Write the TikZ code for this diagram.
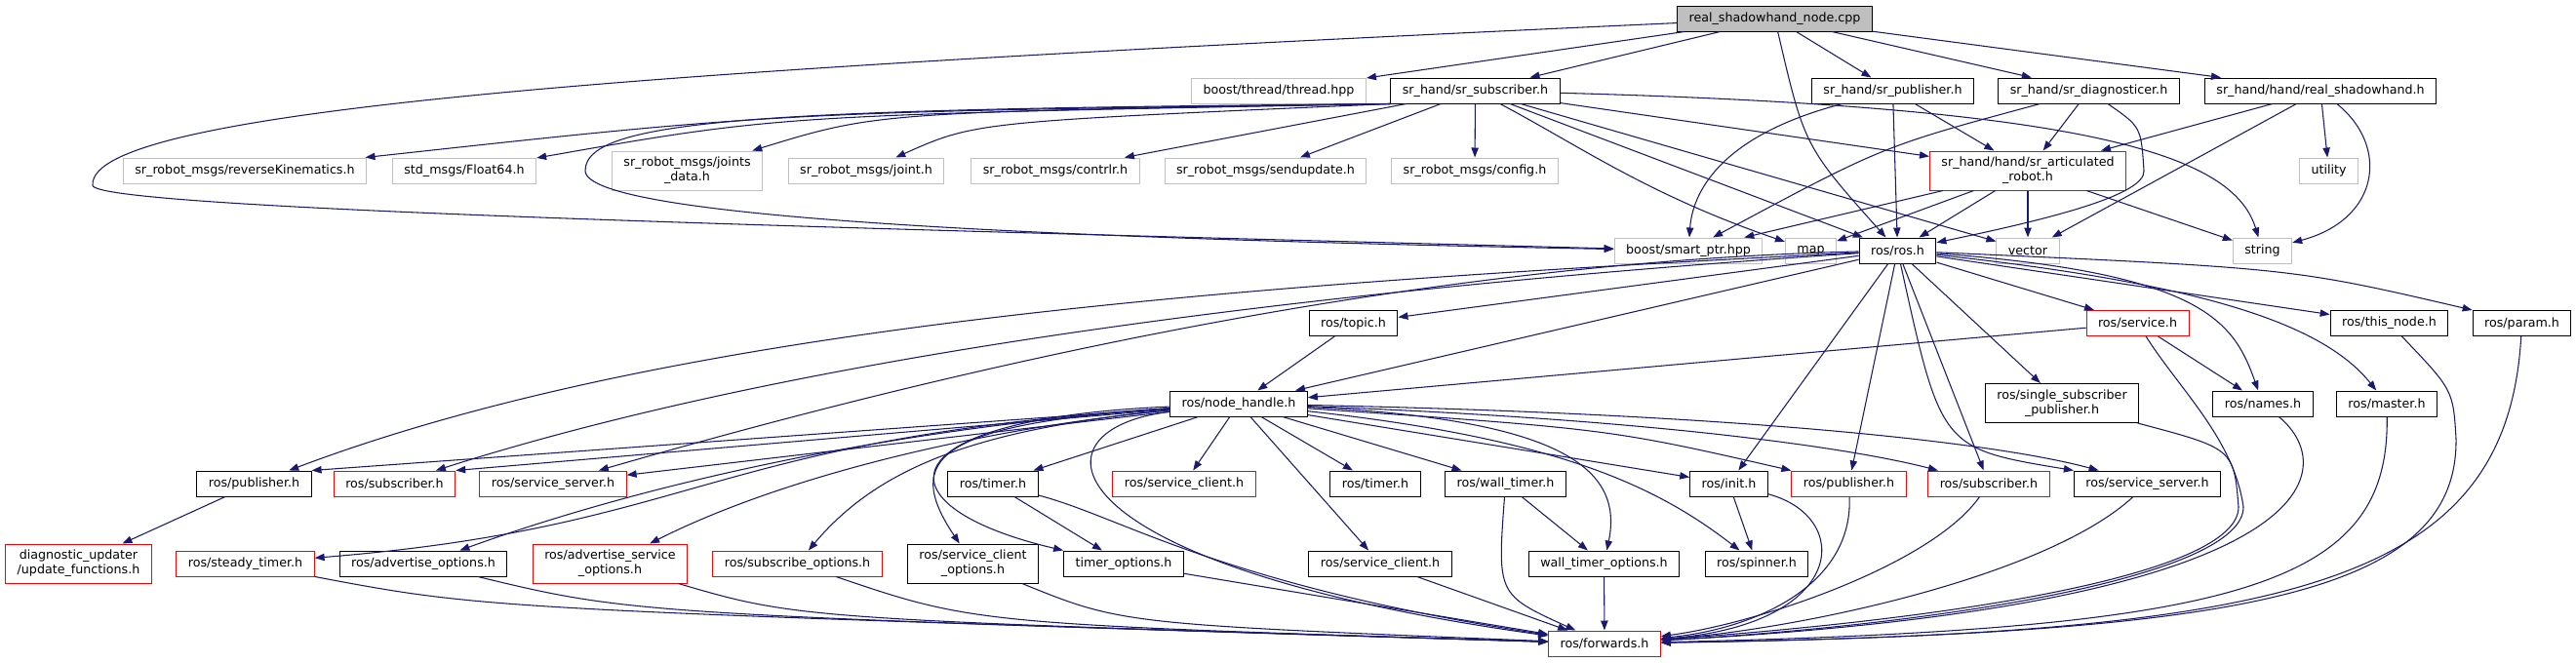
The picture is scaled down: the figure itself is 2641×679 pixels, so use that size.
\documentclass[tikz,border=0pt]{standalone}
\usepackage{fontspec}
\setmainfont{DejaVu Sans}
\usetikzlibrary{arrows.meta}
\definecolor{incblue}{HTML}{191970}
\definecolor{extgray}{HTML}{BFBFBF}
\definecolor{mainfill}{HTML}{BFBFBF}
\tikzset{
  file/.style={draw=black, fill=white, line width=0.75pt, inner xsep=9pt, inner ysep=2pt,
    minimum height=19.5pt, align=center, font=\fontsize{9.5}{11.25}\selectfont},
  extfile/.style={file, draw=extgray},
  redfile/.style={file, draw=red},
  mainfile/.style={file, fill=mainfill},
  twoline/.style={minimum height=30pt},
  inc/.style={draw=incblue, line width=0.8pt, -{Triangle[length=7.5pt,width=5.5pt]}},
}
\begin{document}
\begin{tikzpicture}[x=0.75pt,y=-0.75pt]
\useasboundingbox (0,0) rectangle (2641,679);
\node[mainfile] (main) at (1819.5,19) {real\_shadowhand\_node.cpp};
\node[extfile] (thread) at (1311,93) {boost/thread/thread.hpp};
\node[file] (srsub) at (1512.5,93) {sr\_hand/sr\_subscriber.h};
\node[file] (srpub) at (1940.5,93) {sr\_hand/sr\_publisher.h};
\node[file] (srdiag) at (2141.5,93) {sr\_hand/sr\_diagnosticer.h};
\node[file] (realsh) at (2379,93) {sr\_hand/hand/real\_shadowhand.h};
\node[extfile] (revkin) at (251,175) {sr\_robot\_msgs/reverseKinematics.h};
\node[extfile] (float) at (476,175) {std\_msgs/Float64.h};
\node[extfile,twoline] (jdata) at (704.5,175) {sr\_robot\_msgs/joints\\\_data.h};
\node[extfile] (joint) at (888,175) {sr\_robot\_msgs/joint.h};
\node[extfile] (contrlr) at (1082,175) {sr\_robot\_msgs/contrlr.h};
\node[extfile] (sendupd) at (1297.5,175) {sr\_robot\_msgs/sendupdate.h};
\node[extfile] (config) at (1512,175) {sr\_robot\_msgs/config.h};
\node[redfile,twoline] (artrobot) at (2079,175) {sr\_hand/hand/sr\_articulated\\\_robot.h};
\node[extfile] (utility) at (2387.5,175) {utility};
\node[extfile] (smartptr) at (1731,257) {boost/smart\_ptr.hpp};
\node[extfile] (map) at (1856.5,257) {map};
\node[file] (ros) at (1945.5,257) {ros/ros.h};
\node[extfile] (vector) at (2079,257) {vector};
\node[extfile] (string) at (2319.5,257) {string};
\node[file] (topic) at (1387.5,331.5) {ros/topic.h};
\node[redfile] (service) at (2191.5,331.5) {ros/service.h};
\node[file] (thisnode) at (2449.5,331.5) {ros/this\_node.h};
\node[file] (param) at (2585.5,331.5) {ros/param.h};
\node[file] (nodehandle) at (1270,414) {ros/node\_handle.h};
\node[file,twoline] (singlesub) at (2114,413.5) {ros/single\_subscriber\\\_publisher.h};
\node[file] (names) at (2320,414) {ros/names.h};
\node[file] (master) at (2447,414) {ros/master.h};
\node[file] (pubL) at (260.5,496) {ros/publisher.h};
\node[redfile] (subL) at (404.5,496) {ros/subscriber.h};
\node[redfile] (ssrvL) at (567,496) {ros/service\_server.h};
\node[file] (timerA) at (1018,496) {ros/timer.h};
\node[redfile] (sclientR) at (1214,496) {ros/service\_client.h};
\node[file] (timerB) at (1410,496) {ros/timer.h};
\node[file] (walltimer) at (1543.5,496) {ros/wall\_timer.h};
\node[file] (init) at (1772.5,496) {ros/init.h};
\node[redfile] (pubR) at (1895.5,496) {ros/publisher.h};
\node[redfile] (subR) at (2039,496) {ros/subscriber.h};
\node[file] (ssrvR) at (2201.5,496) {ros/service\_server.h};
\node[redfile,twoline] (diagupd) at (80.5,578) {diagnostic\_updater\\/update\_functions.h};
\node[redfile] (steady) at (251.5,578) {ros/steady\_timer.h};
\node[file] (advopt) at (434,578) {ros/advertise\_options.h};
\node[redfile,twoline] (advsrvopt) at (625.5,578) {ros/advertise\_service\\\_options.h};
\node[redfile] (subopt) at (817.5,578) {ros/subscribe\_options.h};
\node[file,twoline] (sclopt) at (997.5,578) {ros/service\_client\\\_options.h};
\node[file] (timeropt) at (1152,578) {timer\_options.h};
\node[file] (sclient) at (1415,578) {ros/service\_client.h};
\node[file] (walltopt) at (1644.5,578) {wall\_timer\_options.h};
\node[file] (spinner) at (1801,578) {ros/spinner.h};
\node[redfile] (forwards) at (1645,660) {ros/forwards.h};
% real_shadowhand_node.cpp
\draw[inc] (main) -- (thread);
\draw[inc] (main) -- (srsub);
\draw[inc] (main) -- (srpub);
\draw[inc] (main) -- (srdiag);
\draw[inc] (main) -- (realsh);
\draw[inc] (main) .. controls (1850,150) .. (ros);
\draw[inc] (main) .. controls (700,70) and (90,110) .. (95,190) .. controls (95,215) and (900,235) .. (smartptr);
% sr_subscriber.h
\draw[inc] (srsub.south west) .. controls (800,115) .. (revkin);
\draw[inc] (srsub.south west) .. controls (800,118) .. (float);
\draw[inc] (srsub.south west) .. controls (900,115) .. (jdata);
\draw[inc] (srsub.south west) .. controls (1000,125) .. (joint);
\draw[inc] (srsub) -- (contrlr);
\draw[inc] (srsub) -- (sendupd);
\draw[inc] (srsub) -- (config);
\draw[inc] (srsub.south west) .. controls (800,112) and (600,120) .. (600,175) .. controls (600,225) and (1100,245) .. (smartptr);
\draw[inc] (srsub) .. controls (1620,150) and (1690,200) .. (map);
\draw[inc] (srsub) -- (ros);
\draw[inc] (srsub) -- (vector);
\draw[inc] (srsub) -- (artrobot);
\draw[inc] (srsub) .. controls (2150,110) and (2290,160) .. (string);
% sr_publisher.h, sr_diagnosticer.h, real_shadowhand.h
\draw[inc] (srpub) .. controls (1760,140) and (1735,200) .. (smartptr);
\draw[inc] (srpub) -- (ros);
\draw[inc] (srpub) -- (artrobot);
\draw[inc] (srdiag) .. controls (1930,150) .. (smartptr);
\draw[inc] (srdiag) -- (artrobot);
\draw[inc] (srdiag) .. controls (2195,130) .. (2198,175) .. controls (2200,200) and (2100,225) .. (ros);
\draw[inc] (realsh) -- (artrobot);
\draw[inc] (realsh) -- (vector);
\draw[inc] (realsh) -- (utility);
\draw[inc] (realsh) .. controls (2450,150) and (2440,225) .. (string);
% sr_articulated_robot.h
\draw[inc] (artrobot) -- (smartptr);
\draw[inc] (artrobot) -- (map);
\draw[inc] (artrobot) -- (ros);
\draw[inc] (artrobot) -- (vector);
\draw[inc] (artrobot) -- (string);
% ros.h
\draw[inc] (ros) -- (topic);
\draw[inc] (ros) -- (nodehandle);
\draw[inc] (ros) .. controls (1300,290) and (700,330) .. (pubL);
\draw[inc] (ros) .. controls (1300,300) and (800,370) .. (subL);
\draw[inc] (ros) .. controls (1400,270) and (900,400) .. (ssrvL);
\draw[inc] (ros) -- (service);
\draw[inc] (ros) -- (thisnode);
\draw[inc] (ros) .. controls (2350,275) .. (param.north west);
\draw[inc] (ros) .. controls (2260,280) and (2290,330) .. (names);
\draw[inc] (ros) .. controls (2250,290) and (2380,330) .. (master);
\draw[inc] (ros) -- (singlesub);
\draw[inc] (ros) -- (init);
\draw[inc] (ros) -- (pubR);
\draw[inc] (ros) -- (subR);
\draw[inc] (ros) .. controls (1990,460) .. (ssrvR.north west);
% topic.h, service.h
\draw[inc] (topic) -- (nodehandle);
\draw[inc] (service) -- (nodehandle);
\draw[inc] (service) -- (names);
\draw[inc] (service) .. controls (2235,400) and (2290,450) .. (2300,520) .. controls (2300,590) and (2000,640) .. (forwards);
% node_handle.h
\draw[inc] (nodehandle) -- (pubL.north east);
\draw[inc] (nodehandle) -- (subL.north east);
\draw[inc] (nodehandle) -- (ssrvL);
\draw[inc] (nodehandle) .. controls (720,450) and (720,540) .. (steady);
\draw[inc] (nodehandle) .. controls (900,440) and (650,500) .. (advopt);
\draw[inc] (nodehandle) .. controls (1000,440) and (800,490) .. (advsrvopt);
\draw[inc] (nodehandle) .. controls (1000,440) and (900,480) .. (subopt);
\draw[inc] (nodehandle) .. controls (960,435) and (925,470) .. (sclopt);
\draw[inc] (nodehandle) .. controls (900,430) and (900,520) .. (timeropt.north west);
\draw[inc] (nodehandle) -- (timerA);
\draw[inc] (nodehandle) -- (sclientR);
\draw[inc] (nodehandle) -- (sclient);
\draw[inc] (nodehandle) -- (timerB);
\draw[inc] (nodehandle) -- (walltimer);
\draw[inc] (nodehandle) -- (init);
\draw[inc] (nodehandle) .. controls (1650,440) .. (pubR);
\draw[inc] (nodehandle) .. controls (1700,430) and (1900,460) .. (subR);
\draw[inc] (nodehandle) .. controls (1800,425) and (2050,455) .. (ssrvR);
\draw[inc] (nodehandle) .. controls (1600,430) and (1665,480) .. (walltopt);
\draw[inc] (nodehandle) .. controls (1600,450) and (1700,500) .. (spinner);
\draw[inc] (nodehandle) .. controls (1050,440) and (1070,580) .. (forwards);
% lower rows
\draw[inc] (pubL) -- (diagupd);
\draw[inc] (timerA) -- (timeropt);
\draw[inc] (timerA) .. controls (1150,530) and (1250,600) .. (forwards);
\draw[inc] (walltimer) -- (walltopt);
\draw[inc] (walltimer) .. controls (1535,610) .. (forwards);
\draw[inc] (init) -- (spinner);
\draw[inc] (init) .. controls (1900,530) and (1895,640) .. (forwards);
\draw[inc] (steady) .. controls (500,625) .. (forwards);
\draw[inc] (advopt) .. controls (650,630) .. (forwards);
\draw[inc] (advsrvopt) .. controls (820,635) .. (forwards);
\draw[inc] (subopt) .. controls (1000,640) .. (forwards);
\draw[inc] (sclopt) .. controls (1150,640) .. (forwards);
\draw[inc] (timeropt) -- (forwards);
\draw[inc] (sclient) -- (forwards);
\draw[inc] (walltopt) -- (forwards);
\draw[inc] (pubR) .. controls (1900,600) and (1800,645) .. (forwards);
\draw[inc] (subR) .. controls (1980,580) and (1800,640) .. (forwards);
\draw[inc] (ssrvR) .. controls (2100,590) and (1850,645) .. (forwards);
\draw[inc] (singlesub) .. controls (2290,460) .. (2295,520) .. controls (2295,590) and (2000,635) .. (forwards);
\draw[inc] (names) .. controls (2400,480) and (2390,620) .. (forwards);
\draw[inc] (master) .. controls (2450,600) and (2300,645) .. (forwards);
\draw[inc] (thisnode) .. controls (2515,400) .. (2518,450) .. controls (2520,610) and (2300,650) .. (forwards);
\draw[inc] (param) .. controls (2570,600) and (2350,650) .. (forwards);
\end{tikzpicture}
\end{document}
